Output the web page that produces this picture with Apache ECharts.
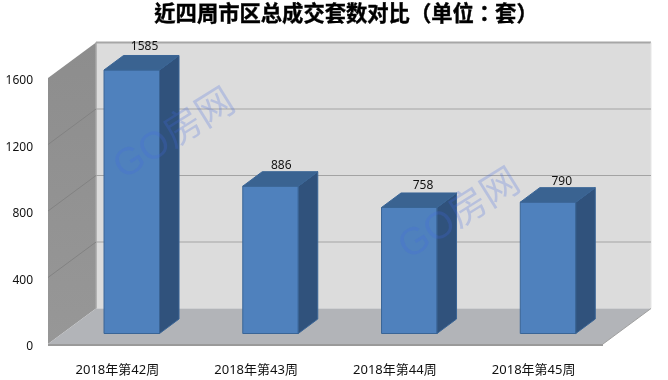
<!DOCTYPE html>
<html><head><meta charset="utf-8">
<style>html,body{margin:0;padding:0;background:#fff}#c{width:668px;height:380px}</style>
<script src="https://cdn.jsdelivr.net/npm/echarts@6/dist/echarts.min.js"></script>
</head><body><div id="c"></div>
<script>
const categories = ['2018年第42周','2018年第43周','2018年第44周','2018年第45周'];
const values = [1585,886,758,790];
const yTicks = [0,400,800,1200,1600];
const titleText = '近四周市区总成交套数对比（单位：套）';
const watermark = 'GO房网';

// layout of the pseudo-3D box
const DX = 48, DY = -35.5;           // front plane -> back wall
const BX = 14.4, BY = -10.5;         // front plane -> bar front face
const BDX = 19.5, BDY = -14.5;       // bar depth
const labelNudge = [[3,-9],[1,-6],[4,-7],[4,-6]];
const font = '"Noto Sans","Noto Sans CJK SC",sans-serif';
const wmFont = '"Liberation Sans","Noto Sans CJK SC",sans-serif';

const chart = echarts.init(document.getElementById('c'), null, {renderer:'canvas'});
const poly = (pts, fill, stroke, lw) => ({type:'polygon', shape:{points:pts}, style:{fill, stroke:stroke||null, lineWidth:lw||0}});
const line = (a,b,stroke,lw) => ({type:'line', shape:{x1:a[0],y1:a[1],x2:b[0],y2:b[1]}, style:{stroke,lineWidth:lw||1}});

chart.setOption({
  animation:false,
  backgroundColor:'#fff',
  title:{text:titleText,left:346,top:0,padding:0,textAlign:'center',textStyle:{fontFamily:'"Noto Sans CJK TC"',fontWeight:'bold',fontSize:21.3,color:'#000',lineHeight:26,textBorderColor:'#000',textBorderWidth:0.4}},
  grid:{left:48,right:65,top:78,bottom:36},
  xAxis:{type:'category',data:categories,axisLine:{show:false},axisTick:{show:false},
    axisLabel:{margin:20,fontSize:13,color:'#111',fontFamily:font}},
  yAxis:{type:'value',min:0,max:1600,interval:400,axisLine:{show:false},axisTick:{show:false},splitLine:{show:false},
    axisLabel:{margin:15,formatter:v=>'{a|'+v+'}',rich:{a:{fontSize:12,color:'#111',fontFamily:font,padding:[6,0,0,0]}}}},
  series:[
    {type:'custom',name:'walls',z:1,silent:true,clip:false,data:[0],encode:{x:-1,y:-1},
     renderItem(p,api){
       const x0=p.coordSys.x, x1=p.coordSys.x+p.coordSys.width;
       const yb=api.coord([0,0])[1], yt=api.coord([0,yTicks[yTicks.length-1]])[1];
       return {type:'group',children:[
         poly([[x0+DX,yt+DY],[x1+DX,yt+DY],[x1+DX,yb+DY],[x0+DX,yb+DY]],'#DCDCDC'),
         poly([[x0,yt],[x0+DX,yt+DY],[x0+DX,yb+DY],[x0,yb]],
           {type:'linear',x:0,y:0,x2:0,y2:1,colorStops:[{offset:0,color:'#8D8D8D'},{offset:1,color:'#979797'}]}),
         poly([[x0,yb],[x0+DX,yb+DY],[x1+DX,yb+DY],[x1,yb]],'#B2B4B8'),
         line([x0+DX,yt+DY],[x1+DX,yt+DY],'#A6A6A6',2),
         line([x0,yb+1],[x1,yb+1],'#9A9A9A',2),
         line([x0+DX,yt+DY],[x0+DX,yb+DY],'#A6A6A6',1.5),
         line([x1+DX,yt+DY],[x1+DX,yb+DY],'#E6E6E6',1),
         line([x1,yb],[x1+DX,yb+DY],'#A0A0A0',1)
       ]};
     }},
    {type:'custom',name:'gridlines',z:2,silent:true,clip:false,data:yTicks.slice(1,-1).map(v=>[v]),encode:{x:-1,y:0},
     renderItem(p,api){
       const y=api.coord([0,api.value(0)])[1];
       const x0=p.coordSys.x, x1=p.coordSys.x+p.coordSys.width;
       return {type:'group',children:[
         line([x0+DX,y+DY],[x1+DX,y+DY],'#A3A3A3',1.2),
         line([x0,y],[x0+DX,y+DY],'#828282',1)
       ]};
     }},
    {type:'custom',name:'套数',z:3,clip:false,data:values.map((v,i)=>[i,v]),encode:{x:0,y:1},
     renderItem(p,api){
       const i=api.value(0), v=api.value(1);
       const top=api.coord([i,v]), base=api.coord([i,0]);
       const w=api.size([1,0])[0]*0.4;
       const L=top[0]-w/2+BX, R=top[0]+w/2+BX, T=top[1]+BY, B=base[1]+BY;
       const edge='#3A6596';
       const n=labelNudge[i];
       return {type:'group',children:[
         poly([[L,B],[R,B],[R,T],[L,T]],'#4F81BD',edge,1),
         poly([[R,T],[R+BDX,T+BDY],[R+BDX,B+BDY],[R,B]],'#30527C','#3A6596',1),
         poly([[L,T],[L+BDX,T+BDY],[R+BDX,T+BDY],[R,T]],'#3A6391','#3A6596',1),
         {type:'text',style:{text:String(v),x:(L+R+BDX)/2+n[0],y:T+BDY+n[1],align:'center',verticalAlign:'middle',fontSize:12,fontFamily:font,fill:'#111'}}
       ]};
     }}
  ],
  graphic:[
    {type:'text',z:100,x:175,y:135,rotation:32*Math.PI/180,silent:true,
     style:{text:watermark,align:'center',verticalAlign:'middle',fontSize:38,fontFamily:wmFont,fill:'rgba(65,105,225,0.24)'}},
    {type:'text',z:100,x:460,y:215,rotation:32*Math.PI/180,silent:true,
     style:{text:watermark,align:'center',verticalAlign:'middle',fontSize:38,fontFamily:wmFont,fill:'rgba(65,105,225,0.24)'}}
  ]
});
</script></body></html>
